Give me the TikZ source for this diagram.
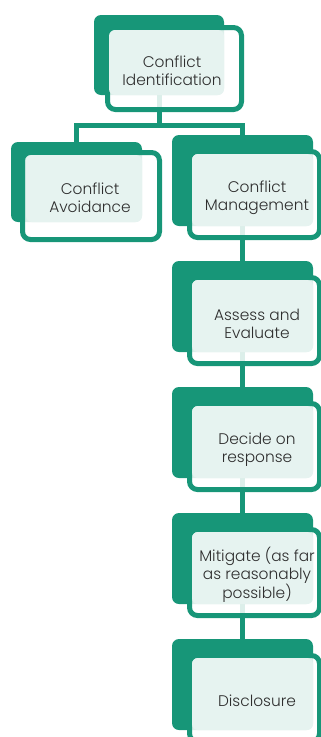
\documentclass[tikz,border=0pt]{standalone}
\usepackage{fontspec}
\setmainfont{Poppins}[UprightFont=* Light]
\usetikzlibrary{backgrounds}
\definecolor{sagegreen}{HTML}{179678}
\definecolor{mint}{HTML}{E6F3F0}
\definecolor{inkgray}{HTML}{2E2E2E}

\begin{document}
\begin{tikzpicture}[x=1pt,y=-1pt,
  backbox/.style={fill=sagegreen,rounded corners=7pt,inner sep=0pt},
  framebox/.style={draw=sagegreen,line width=5pt,fill=white,fill opacity=0.85,rounded corners=8pt,inner sep=0pt},
  tintbox/.style={fill=mint,rounded corners=6pt,inner sep=0pt},
  txt/.style={text=inkgray,font=\fontsize{15.4}{17.8}\selectfont,align=center},
  link/.style={draw=sagegreen,line width=5pt}]
%
  \useasboundingbox (0,0) rectangle (321,737);

         % top
         \node [backbox,minimum width=130pt,minimum height=80pt] (idback)  at (159,55)     {};
         \node [framebox,minimum width=134pt,minimum height=82pt] (idframe) at (174.5,68.5) {};
         \node [tintbox,minimum width=115pt,minimum height=65pt] (idtint)  at (166.5,62.5) {};
         \node [txt] (id) at (172,71) {Conflict\\Identification};

         % left branch
         \node [backbox,minimum width=131pt,minimum height=80pt] (avback)  at (76.5,182)  {};
         \node [framebox,minimum width=137pt,minimum height=87pt] (avframe) at (91,196)    {};
         \node [tintbox,minimum width=116pt,minimum height=67pt] (avtint)  at (84,188.5)  {};
         \node [txt] (av) at (90,198) {Conflict\\Avoidance};

         % right branch
         \node [backbox,minimum width=141pt,minimum height=91pt] (mgback)  at (242.5,180.5) {};
         \node [framebox,minimum width=130pt,minimum height=86pt] (mgframe) at (254.5,194.5) {};
         \node [tintbox,minimum width=121pt,minimum height=72pt] (mgtint)  at (252.5,190)   {};
         \node [txt] (mg) at (257,198) {Conflict\\Management};

         \node [backbox,minimum width=141pt,minimum height=91pt] (asback)  at (242.5,306.5) {};
         \node [framebox,minimum width=130pt,minimum height=86pt] (asframe) at (254.5,320.5) {};
         \node [tintbox,minimum width=121pt,minimum height=72pt] (astint)  at (252.5,316)   {};
         \node [txt] (as) at (257,323.5) {Assess and\\Evaluate};

         \node [backbox,minimum width=141pt,minimum height=91pt] (dcback)  at (242.5,432.5) {};
         \node [framebox,minimum width=130pt,minimum height=86pt] (dcframe) at (254.5,446.5) {};
         \node [tintbox,minimum width=121pt,minimum height=72pt] (dctint)  at (252.5,442)   {};
         \node [txt] (dc) at (257,450) {Decide on\\response};

         \node [backbox,minimum width=141pt,minimum height=91pt] (mtback)  at (242.5,558.5) {};
         \node [framebox,minimum width=130pt,minimum height=86pt] (mtframe) at (254.5,572.5) {};
         \node [tintbox,minimum width=121pt,minimum height=72pt] (mttint)  at (252.5,568)   {};
         \node [txt] (mt) at (257,575) {Mitigate (as far\\as reasonably\\possible)};

         \node [backbox,minimum width=141pt,minimum height=91pt] (dsback)  at (242.5,684.5) {};
         \node [framebox,minimum width=130pt,minimum height=86pt] (dsframe) at (254.5,698.5) {};
         \node [tintbox,minimum width=121pt,minimum height=72pt] (dstint)  at (252.5,694)   {};
         \node [txt] (ds) at (257,701) {Disclosure};

         % connectors
         \begin{pgfonlayer}{background}
         \coordinate (fork) at (159,125);
         \draw [link] (idback.center) -- (fork) -| (avback.center);
         \draw [link] (fork) -| (mgback.center) -- (asback.center) -- (dcback.center)
                      -- (mtback.center) -- (dsback.center);
         \end{pgfonlayer}

\end{tikzpicture}
\end{document}
